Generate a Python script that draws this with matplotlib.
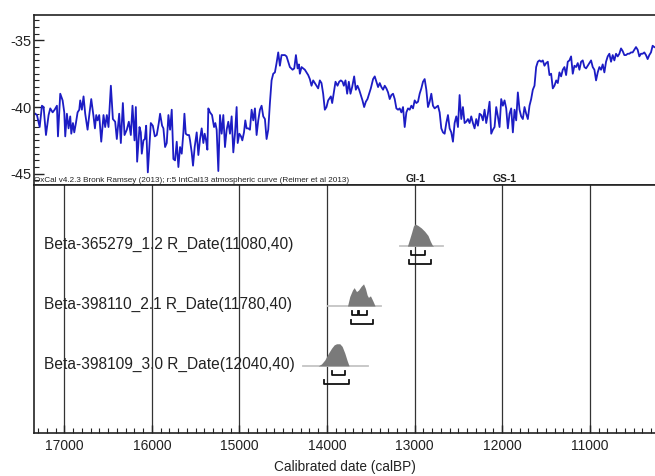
import numpy as np
import matplotlib
matplotlib.use("Agg")
import matplotlib.pyplot as plt
from matplotlib.ticker import MultipleLocator

plt.rcParams['font.family'] = ['Liberation Sans', 'DejaVu Sans']
plt.rcParams['axes.unicode_minus'] = False

#########
# DATA
#########

# upper panel: isotope curve (calBP, value)
curve_years = [
    17331, 17312, 17281, 17255, 17236, 17209, 17179, 17160, 17133, 17110, 17084, 17072,
    17046, 17019, 17000, 16989, 16970, 16951, 16932, 16920, 16901, 16886, 16867, 16848,
    16829, 16818, 16799, 16780, 16761, 16734, 16711, 16692, 16666, 16650, 16635, 16620,
    16601, 16578, 16552, 16533, 16514, 16495, 16468, 16445, 16419, 16400, 16373, 16354,
    16331, 16312, 16286, 16263, 16240, 16221, 16198, 16183, 16168, 16141, 16126, 16115,
    16096, 16080, 16065, 16046, 16012, 15989, 15966, 15944, 15921, 15906, 15883, 15868,
    15849, 15830, 15811, 15792, 15773, 15754, 15735, 15716, 15697, 15678, 15659, 15640,
    15628, 15613, 15594, 15575, 15564, 15545, 15530, 15511, 15488, 15469, 15450, 15431,
    15412, 15397, 15381, 15366, 15355, 15336, 15313, 15290, 15275, 15260, 15241, 15222,
    15203, 15184, 15165, 15146, 15127, 15108, 15089, 15070, 15051, 15032, 15020, 15001,
    14982, 14967, 14948, 14933, 14918, 14899, 14880, 14861, 14842, 14823, 14804, 14785,
    14766, 14747, 14728, 14709, 14690, 14671, 14652, 14633, 14614, 14595, 14576, 14557,
    14538, 14519, 14481, 14462, 14443, 14424, 14393, 14374, 14355, 14336, 14321, 14310,
    14291, 14272, 14253, 14234, 14215, 14196, 14177, 14158, 14139, 14120, 14101, 14082,
    14063, 14044,
    14025, 14006, 13987, 13956, 13941, 13918, 13903, 13880, 13861, 13842, 13823, 13808,
    13789, 13770, 13751, 13732, 13713, 13690, 13671, 13652, 13633, 13614, 13595, 13576,
    13557, 13538, 13519, 13500, 13474, 13455, 13436, 13417, 13398, 13379, 13360, 13341,
    13322, 13303, 13284, 13265, 13246, 13227, 13208, 13189, 13170, 13151, 13132, 13113,
    13094, 13075, 13056, 13037, 13018, 12999, 12980, 12961, 12942, 12923, 12904, 12885,
    12866, 12847, 12828, 12809, 12790, 12771, 12752, 12733, 12714, 12695, 12676, 12657,
    12638, 12619, 12600, 12581, 12562, 12543, 12524, 12505, 12486, 12467, 12448, 12429,
    12410, 12391, 12372, 12353, 12334, 12315, 12296, 12277, 12258, 12239, 12220, 12201,
    12182, 12163, 12144, 12125, 12106, 12087, 12068, 12049, 12030, 12011, 11992, 11973,
    11954, 11935, 11916, 11897, 11878, 11859, 11840, 11821, 11802, 11783, 11764, 11745,
    11726, 11707, 11688, 11669, 11650, 11631, 11612, 11593, 11574, 11555, 11536, 11517,
    11498, 11479, 11460, 11441, 11422, 11403, 11383, 11365, 11346, 11327, 11308, 11289,
    11270, 11251, 11232, 11213, 11194, 11175, 11156, 11137, 11118, 11099, 11080, 11061,
    11042, 11023, 11004, 10985, 10966, 10947, 10928, 10909, 10890, 10871, 10852, 10833,
    10814, 10795, 10776, 10757, 10738, 10719, 10700, 10681, 10662, 10643, 10624, 10605,
    10586, 10567, 10548, 10529, 10510, 10491, 10472, 10453, 10434, 10415, 10396, 10377,
    10358, 10339, 10320, 10301, 10282, 10263,
]
curve_values = [
    -40.5, -40.6, -41.5, -39.9, -40.0, -42.1, -40.6, -40.1, -40.4, -40.2, -39.9, -42.2,
    -39.0, -39.5, -40.4, -42.2, -40.5, -41.6, -40.7, -42.0, -41.2, -41.9, -41.2, -40.4,
    -40.2, -39.5, -40.2, -39.2, -40.5, -41.7, -40.4, -39.4, -40.7, -41.6, -40.6, -41.0,
    -40.6, -42.6, -40.6, -41.5, -40.6, -41.5, -38.4, -40.9, -41.1, -42.4, -40.5, -42.7,
    -39.7, -42.1, -41.7, -41.1, -42.1, -39.9, -42.5, -40.0, -44.1, -41.5, -41.9, -43.5,
    -42.5, -42.4, -41.4, -44.9, -41.2, -41.4, -42.2, -42.1, -41.2, -40.5, -41.4, -41.6,
    -43.0, -42.7, -40.6, -41.7, -40.2, -43.9, -44.0, -42.6, -44.5, -43.0, -43.5, -41.9,
    -40.5, -42.0, -42.1, -42.1, -42.5, -43.4, -44.4, -43.0, -41.9, -43.6, -42.4, -41.6,
    -42.7, -42.0, -42.5, -43.2, -40.1, -40.4, -40.6, -41.5, -41.2, -41.7, -44.8, -40.6,
    -42.0, -40.6, -43.0, -41.7, -41.1, -42.0, -40.7, -43.4, -42.0, -40.0, -42.7, -42.0,
    -42.2, -42.5, -41.9, -41.0, -41.6, -41.6, -41.7, -40.2, -41.0, -40.1, -42.1, -41.0,
    -40.2, -39.9, -40.7, -40.9, -42.4, -41.7, -39.7, -38.0, -37.5, -37.4, -36.7, -35.9,
    -36.9, -36.1, -36.1, -36.2, -36.6, -37.0, -37.2, -37.1, -36.1, -37.1, -36.8, -37.5,
    -37.0, -37.1, -37.2, -37.4, -37.6, -37.9, -38.4, -38.0, -38.2, -38.4, -38.6, -38.0,
    -38.2, -39.0,
    -40.2, -40.0, -39.5, -39.2, -39.7, -38.7, -38.1, -38.4, -38.1, -38.0, -38.1, -38.4,
    -38.0, -39.0, -38.1, -39.0, -38.5, -37.7, -38.7, -38.4, -38.7, -39.1, -39.5, -40.0,
    -39.6, -39.4, -39.0, -38.6, -37.9, -37.7, -38.1, -38.5, -38.2, -38.5, -38.7, -38.4,
    -38.6, -38.9, -39.4, -39.1, -39.0, -39.4, -40.1, -40.2, -40.1, -40.4, -40.0, -41.5,
    -40.4, -40.1, -40.2, -39.9, -40.1, -39.5, -39.7, -39.6, -39.0, -38.6, -38.1, -37.9,
    -38.7, -40.0, -39.6, -39.0, -39.9, -40.1, -40.0, -39.9, -40.4, -41.6, -41.9, -42.0,
    -41.2, -40.6, -41.6, -41.9, -42.6, -41.2, -40.7, -41.5, -39.1, -40.9, -40.0, -41.2,
    -41.1, -40.9, -41.2, -40.7, -41.2, -41.6, -40.9, -41.4, -40.5, -40.6, -41.0, -40.2,
    -41.2, -40.5, -39.6, -42.0, -41.7, -41.5, -40.0, -40.7, -41.5, -39.4, -39.9, -39.5,
    -40.1, -41.6, -40.5, -40.1, -41.9, -40.2, -41.0, -38.9, -40.2, -40.7, -40.9, -40.0,
    -40.5, -40.9, -39.9, -39.4, -38.7, -38.4, -37.0, -36.6, -36.5, -36.6, -36.5, -36.9,
    -36.7, -36.6, -37.6, -37.5, -38.6, -38.4, -38.0, -38.2, -37.4, -37.7, -37.2, -37.0,
    -37.6, -36.6, -36.5, -36.2, -37.5, -36.9, -37.0, -36.7, -37.2, -36.6, -36.5, -37.0,
    -37.1, -36.9, -36.7, -36.5, -37.0, -37.2, -38.0, -37.4, -37.0, -37.2, -36.8, -37.4,
    -36.6, -36.2, -36.0, -36.6, -36.1, -36.5, -36.0, -36.2, -36.0, -35.6, -35.8, -36.1,
    -36.1, -36.0, -36.0, -35.9, -35.9, -35.7, -35.5, -35.7, -36.2, -36.0, -36.0, -35.9,
    -36.1, -36.4, -36.1, -35.9, -35.4, -35.5,
]

# lower panel: calibrated dates
date_labels = [
    "Beta-365279_1.2 R_Date(11080,40)",
    "Beta-398110_2.1 R_Date(11780,40)",
    "Beta-398109_3.0 R_Date(12040,40)",
]
# extent of the grey baseline under each distribution
date_span = [(13170, 12676), (13994, 13379), (14272, 13531)]

# probability distributions (calBP, relative probability)
prob1_years = [13082, 13056, 13033, 13014, 12995, 12961, 12923, 12885, 12847, 12820, 12797, 12782]
prob1_vals = [0.0, 0.33, 0.63, 0.90, 1.0, 0.93, 0.82, 0.67, 0.48, 0.22, 0.04, 0.0]
prob2_years = [13766, 13740, 13709, 13690, 13663, 13640, 13610, 13583, 13561, 13542, 13527, 13504, 13474, 13451]
prob2_vals = [0.0, 0.43, 0.72, 0.83, 0.65, 0.72, 0.89, 1.0, 0.79, 0.50, 0.39, 0.46, 0.21, 0.0]
prob3_years = [14101, 14063, 14025, 13987, 13948, 13918, 13891, 13854, 13827, 13797, 13770, 13748]
prob3_vals = [0.0, 0.09, 0.27, 0.55, 0.80, 0.95, 1.0, 1.0, 0.88, 0.58, 0.24, 0.0]
prob_years = [prob1_years, prob2_years, prob3_years]
prob_vals = [prob1_vals, prob2_vals, prob3_vals]

# 68.2% and 95.4% ranges
range68 = [[(13037, 12877)], [(13714, 13641), (13632, 13542)], [(13941, 13789)]]
range95 = [[(13064, 12808)], [(13728, 13474)], [(14033, 13751)]]

phase_labels = ["GI-1", "GS-1"]
phase_years = [12990, 11975]

#########
# PLOT
#########

fig = plt.figure(figsize=(6.55, 4.76), dpi=100)
ax_top = fig.add_axes([0.052, 0.6113, 0.948, 0.357])
ax_bot = fig.add_axes([0.052, 0.0903, 0.948, 0.521])

xlim = (17345, 10255)
line_col = '#222222'

# top panel
ax_top.plot(curve_years, curve_values, color='#1c1cc4', lw=1.3)
ax_top.set_xlim(*xlim)
ax_top.set_ylim(-45.85, -33.1)
ax_top.yaxis.set_major_locator(MultipleLocator(5))
ax_top.yaxis.set_minor_locator(MultipleLocator(0.5))
ax_top.tick_params(axis='y', which='major', direction='in', length=7, width=1,
                   labelsize=10.5, pad=2, colors=line_col)
ax_top.tick_params(axis='y', which='minor', direction='in', length=3.5, width=0.8, colors=line_col)
ax_top.set_xticks([])
ax_top.spines['right'].set_visible(False)
for s in ['left', 'top', 'bottom']:
    ax_top.spines[s].set_color(line_col)
    ax_top.spines[s].set_linewidth(1.2)
ax_top.text(0.0, 0.008, "OxCal v4.2.3 Bronk Ramsey (2013); r:5 IntCal13 atmospheric curve (Reimer et al 2013)",
            transform=ax_top.transAxes, fontsize=5.9, color=line_col, va='bottom', ha='left')

# bottom panel
ax_bot.set_xlim(*xlim)
ax_bot.set_ylim(4.12, -0.02)
for yr in range(17000, 10999, -1000):
    ax_bot.axvline(yr, color='#333333', lw=0.9, zorder=1)

scale = 0.37
off68, off95, tick_h = 0.15, 0.30, 0.07
for i, lab in enumerate(date_labels):
    base = i + 1
    ax_bot.text(17230, base - 0.03, lab, fontsize=11.2, color=line_col, va='center', ha='left')
    ax_bot.plot(date_span[i], [base, base], color='#c4c4c4', lw=1.3, zorder=2)
    ax_bot.fill_between(prob_years[i], base, base - np.array(prob_vals[i]) * scale,
                        color='#7a7a7a', lw=0, zorder=3)
    for off, ranges in [(off68, range68[i]), (off95, range95[i])]:
        y0 = base + off
        for a, b in ranges:
            ax_bot.plot([a, a, b, b], [y0 - tick_h, y0, y0, y0 - tick_h],
                        color='#111111', lw=1.3, zorder=3)

for lab, yr in zip(phase_labels, phase_years):
    ax_bot.text(yr, -0.04, lab, fontsize=7.5, fontweight='bold', ha='center', va='bottom',
                color=line_col)

ax_bot.xaxis.set_major_locator(MultipleLocator(1000))
ax_bot.xaxis.set_minor_locator(MultipleLocator(100))
ax_bot.tick_params(axis='x', which='major', direction='in', length=6, width=1,
                   labelsize=10, pad=4, colors=line_col)
ax_bot.tick_params(axis='x', which='minor', direction='in', length=3.5, width=0.8, colors=line_col)
ax_bot.set_yticks([])
ax_bot.spines['right'].set_visible(False)
for s in ['left', 'top', 'bottom']:
    ax_bot.spines[s].set_color(line_col)
    ax_bot.spines[s].set_linewidth(1.2)
ax_bot.set_xlabel("Calibrated date (calBP)", fontsize=9.8, color=line_col, labelpad=5)

fig.savefig("out.png", dpi=100)
